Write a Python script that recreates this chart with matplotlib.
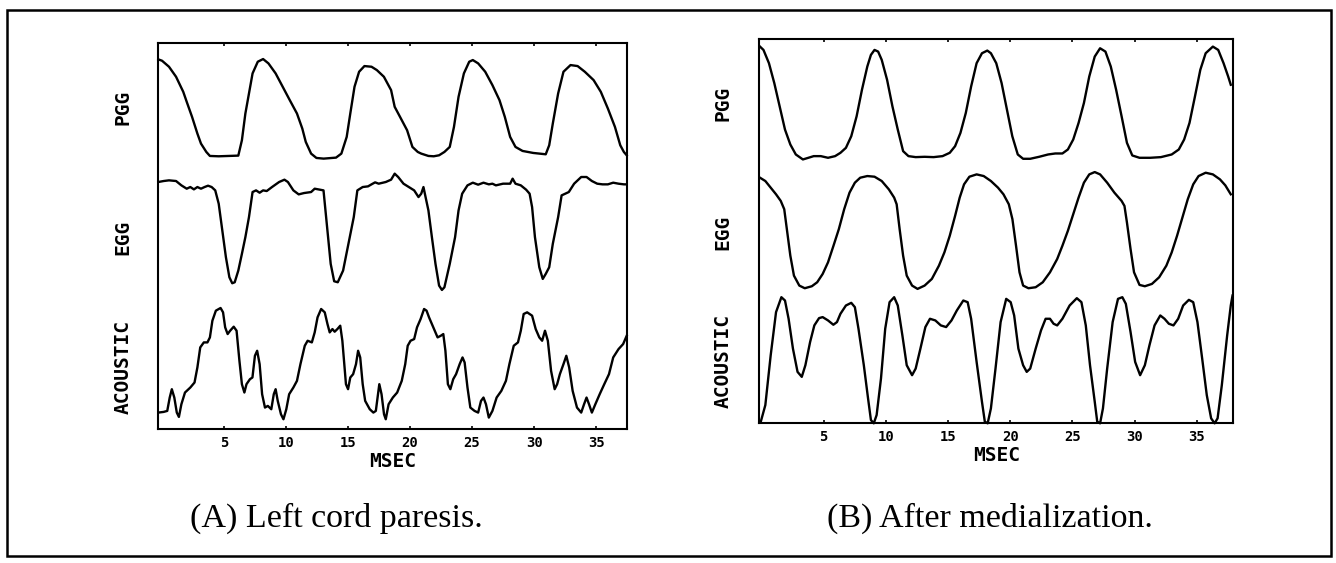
import matplotlib
matplotlib.use('Agg')
import matplotlib.pyplot as plt
from matplotlib.patches import Rectangle

# Traces: time in msec, amplitude in arbitrary units
# (0 = bottom of the plot frame, 115.7 = top of the plot frame)

##### (A) Left cord paresis #####
a_pgg_ms = [-0.30, 0.00, 0.56, 1.13, 1.71, 1.99, 2.42, 2.85, 3.14, 3.57,
            3.86, 4.57, 6.15, 6.44, 6.72, 7.01, 7.30, 7.72, 8.15, 8.58,
            9.16, 9.73, 10.30, 10.88, 11.31, 11.59, 12.02, 12.45, 13.03, 14.03,
            14.46, 14.89, 15.18, 15.52, 15.89, 16.32, 16.89, 17.32, 17.89, 18.47,
            18.76, 19.19, 19.76, 20.19, 20.62, 20.90, 21.48, 21.91, 22.34, 22.77,
            23.20, 23.54, 23.91, 24.34, 24.77, 25.06, 25.49, 26.06, 26.64, 27.21,
            27.64, 28.07, 28.50, 29.07, 29.93, 30.94, 31.22, 31.51, 31.94, 32.37,
            32.94, 33.51, 34.09, 34.80, 35.38, 35.95, 36.52, 36.95, 37.24, 37.47]
a_pgg = [110.7, 110.3, 108.5, 105.5, 101.0, 98.0, 93.5, 88.5, 85.5, 83.0,
         81.8, 81.7, 81.9, 86.5, 94.5, 100.5, 106.5, 110.0, 110.8, 109.5,
         106.5, 102.5, 98.5, 94.5, 90.0, 86.0, 82.5, 81.2, 81.0, 81.3,
         82.5, 87.5, 94.5, 102.5, 107.0, 108.7, 108.5, 107.5, 105.5, 101.5,
         96.5, 93.5, 89.5, 84.5, 83.0, 82.5, 81.8, 81.7, 82.0, 83.0,
         84.5, 90.5, 99.5, 106.5, 110.0, 110.5, 109.5, 107.0, 103.0, 98.5,
         93.5, 87.5, 84.5, 83.3, 82.7, 82.3, 85.0, 91.5, 100.5, 107.0,
         109.0, 108.7, 107.0, 104.5, 101.0, 96.0, 90.5, 85.0, 83.0, 82.0]

a_egg_ms = [-0.30, 0.13, 0.56, 1.13, 1.56, 1.99, 2.28, 2.57, 2.85, 3.14,
            3.43, 3.71, 4.00, 4.29, 4.57, 4.86, 5.15, 5.43, 5.66, 5.86,
            6.15, 6.44, 6.72, 7.01, 7.30, 7.58, 7.87, 8.15, 8.44, 8.87,
            9.44, 9.87, 10.15, 10.59, 11.02, 11.45, 12.02, 12.31, 12.74, 13.02,
            13.31, 13.60, 13.88, 14.17, 14.60, 15.03, 15.46, 15.75, 16.18, 16.61,
            16.89, 17.18, 17.47, 18.04, 18.47, 18.76, 19.04, 19.47, 19.90, 20.33,
            20.68, 20.90, 21.08, 21.25, 21.48, 21.76, 22.05, 22.34, 22.57, 22.77,
            23.20, 23.63, 23.91, 24.20, 24.63, 25.06, 25.49, 25.92, 26.35, 26.64,
            26.92, 27.50, 28.07, 28.27, 28.50, 28.93, 29.36, 29.64, 29.84, 30.07,
            30.42, 30.70, 30.94, 31.22, 31.51, 31.94, 32.22, 32.51, 32.80, 33.23,
            33.80, 34.23, 34.66, 35.09, 35.52, 35.95, 36.38, 36.81, 37.24, 37.47]
a_egg = [74.0, 74.3, 74.5, 74.3, 73.0, 72.0, 72.5, 71.8, 72.5, 72.0,
         72.5, 72.9, 72.5, 71.5, 67.5, 59.5, 51.5, 45.5, 43.7, 44.0,
         47.5, 52.5, 57.5, 63.5, 71.0, 71.5, 70.8, 71.5, 71.3, 72.5,
         74.0, 74.7, 74.0, 71.5, 70.3, 70.7, 71.0, 72.0, 71.7, 71.5,
         60.5, 49.5, 44.3, 44.0, 47.5, 55.5, 63.5, 71.5, 72.5, 72.7,
         73.3, 73.9, 73.5, 74.0, 74.7, 76.5, 75.5, 73.5, 72.5, 71.5,
         69.5, 70.5, 72.5, 69.5, 65.5, 57.5, 49.5, 43.0, 41.7, 42.5,
         49.5, 57.5, 65.5, 70.5, 73.0, 73.8, 73.2, 73.8, 73.3, 73.5,
         73.0, 73.5, 73.5, 75.0, 73.5, 73.0, 71.7, 70.5, 66.5, 57.5,
         48.5, 45.0, 46.5, 48.5, 55.5, 63.5, 70.0, 70.5, 71.0, 73.5,
         75.5, 75.5, 74.3, 73.5, 73.3, 73.3, 73.8, 73.5, 73.3, 73.3]

a_ac_ms = [-0.30, 0.13, 0.42, 0.62, 0.79, 0.99, 1.19, 1.36, 1.56, 1.85,
           2.28, 2.62, 2.85, 3.08, 3.37, 3.66, 3.86, 4.06, 4.34, 4.72,
           4.92, 5.09, 5.29, 5.49, 5.78, 6.01, 6.24, 6.44, 6.64, 6.81,
           7.09, 7.29, 7.49, 7.67, 7.87, 8.07, 8.30, 8.53, 8.81, 9.01,
           9.16, 9.33, 9.59, 9.79, 10.02, 10.25, 10.59, 10.88, 11.16, 11.51,
           11.74, 12.08, 12.31, 12.54, 12.83, 13.12, 13.34, 13.52, 13.74, 13.92,
           14.14, 14.37, 14.54, 14.83, 15.00, 15.18, 15.41, 15.64, 15.81, 15.98,
           16.18, 16.38, 16.75, 17.04, 17.24, 17.41, 17.52, 17.70, 17.90, 18.04,
           18.27, 18.61, 18.96, 19.33, 19.61, 19.81, 20.04, 20.33, 20.56, 20.85,
           21.13, 21.33, 21.53, 21.76, 21.99, 22.22, 22.48, 22.68, 22.85, 23.05,
           23.25, 23.48, 23.71, 24.00, 24.23, 24.40, 24.63, 24.86, 25.20, 25.49,
           25.72, 25.92, 26.12, 26.35, 26.64, 26.98, 27.36, 27.73, 28.01, 28.36,
           28.70, 28.93, 29.16, 29.44, 29.84, 30.13, 30.42, 30.65, 30.88, 31.11,
           31.37, 31.66, 31.86, 32.08, 32.37, 32.60, 32.83, 33.11, 33.46, 33.80,
           34.03, 34.23, 34.43, 34.66, 34.94, 35.29, 35.66, 36.04, 36.38, 36.81,
           37.18, 37.47]
a_ac = [5.0, 5.2, 5.5, 9.5, 12.0, 9.5, 5.0, 3.7, 7.5, 11.0,
        12.5, 14.0, 18.5, 24.5, 26.0, 26.0, 27.5, 32.5, 35.5, 36.3,
        35.0, 30.5, 28.5, 29.5, 30.7, 29.5, 20.5, 13.5, 11.0, 13.5,
        15.0, 15.5, 22.0, 23.5, 19.5, 10.5, 6.5, 7.0, 6.0, 10.5,
        12.0, 8.5, 4.5, 3.0, 6.0, 10.5, 12.5, 14.5, 19.5, 25.0,
        26.5, 26.0, 29.0, 33.5, 36.0, 35.0, 31.5, 29.0, 30.0, 29.2,
        30.0, 31.0, 26.5, 13.5, 12.0, 15.5, 16.5, 19.5, 23.5, 21.5,
        13.5, 8.5, 6.0, 5.0, 5.5, 10.5, 13.5, 10.5, 4.5, 3.0,
        7.5, 9.5, 11.0, 14.5, 19.5, 25.0, 26.5, 27.0, 30.5, 33.0,
        36.0, 35.5, 33.5, 31.5, 29.5, 27.5, 28.0, 28.5, 23.5, 13.5,
        12.0, 15.0, 16.5, 19.5, 21.5, 20.0, 12.5, 6.5, 5.5, 5.0,
        8.5, 9.5, 7.5, 3.5, 5.5, 9.5, 11.5, 14.5, 19.5, 25.0,
        26.0, 29.5, 34.5, 35.0, 34.0, 30.0, 27.5, 26.5, 29.5, 26.5,
        17.5, 12.0, 13.5, 16.5, 19.5, 22.0, 18.5, 11.5, 6.5, 5.0,
        7.5, 9.5, 7.5, 5.0, 7.5, 10.5, 13.5, 16.5, 21.5, 24.0,
        25.5, 28.0]

##### (B) After medialization #####
b_pgg_ms = [-0.12, 0.16, 0.60, 1.03, 1.46, 1.89, 2.32, 2.76, 3.33, 3.77,
            4.20, 4.77, 5.35, 5.92, 6.35, 6.79, 7.22, 7.65, 8.08, 8.51,
            8.80, 9.09, 9.38, 9.67, 10.10, 10.53, 10.96, 11.39, 11.82, 12.40,
            13.12, 13.84, 14.56, 15.14, 15.57, 16.00, 16.43, 16.86, 17.30, 17.73,
            18.16, 18.45, 18.88, 19.31, 19.74, 20.17, 20.61, 21.04, 21.61, 22.33,
            23.05, 23.63, 24.20, 24.64, 25.07, 25.50, 25.93, 26.36, 26.80, 27.23,
            27.66, 28.09, 28.52, 28.96, 29.39, 29.82, 30.40, 31.26, 32.12, 32.99,
            33.56, 33.99, 34.42, 34.86, 35.29, 35.72, 36.30, 36.73, 37.16, 37.53,
            37.74]
b_pgg = [113.5, 112.5, 108.5, 102.5, 95.5, 88.5, 84.0, 81.0, 79.5, 80.0,
         80.5, 80.5, 80.0, 80.5, 81.5, 83.0, 86.5, 92.5, 100.5, 107.5,
         111.0, 112.5, 112.0, 109.5, 103.5, 95.5, 88.5, 82.0, 80.5, 80.2,
         80.3, 80.2, 80.5, 81.5, 83.5, 87.5, 93.5, 101.5, 108.5, 111.5,
         112.3, 111.5, 108.5, 102.5, 94.5, 86.5, 81.0, 79.7, 79.7, 80.3,
         81.0, 81.3, 81.3, 82.5, 85.5, 90.5, 96.5, 104.5, 110.5, 113.0,
         112.0, 107.5, 100.5, 92.5, 84.5, 80.7, 80.0, 80.0, 80.2, 81.0,
         82.5, 85.5, 90.5, 98.5, 106.5, 111.5, 113.5, 112.5, 108.5, 104.5,
         102.0]

b_egg_ms = [-0.12, 0.31, 0.74, 1.17, 1.55, 1.83, 2.04, 2.32, 2.61, 3.04,
            3.48, 4.05, 4.48, 4.92, 5.35, 5.79, 6.22, 6.65, 7.08, 7.51,
            7.94, 8.51, 9.09, 9.67, 10.24, 10.67, 10.87, 11.11, 11.39, 11.68,
            12.11, 12.55, 13.12, 13.70, 14.27, 14.71, 15.14, 15.57, 15.94, 16.29,
            16.72, 17.30, 17.87, 18.45, 19.02, 19.46, 19.89, 20.18, 20.47, 20.75,
            21.04, 21.47, 22.05, 22.62, 23.20, 23.78, 24.20, 24.64, 25.07, 25.50,
            25.93, 26.36, 26.80, 27.23, 27.80, 28.38, 28.96, 29.19, 29.39, 29.68,
            29.96, 30.40, 30.83, 31.40, 31.98, 32.56, 32.99, 33.42, 33.85, 34.28,
            34.72, 35.15, 35.72, 36.30, 36.87, 37.30, 37.74]
b_egg = [74.0, 73.0, 71.0, 69.0, 67.0, 64.5, 58.5, 50.5, 44.5, 41.5,
         40.7, 41.3, 42.5, 45.0, 48.5, 53.5, 58.5, 64.5, 69.5, 72.5,
         74.0, 74.5, 74.3, 73.0, 70.5, 68.0, 66.0, 58.5, 50.5, 44.5,
         41.5, 40.5, 41.5, 43.5, 47.5, 51.5, 56.5, 62.5, 68.0, 72.0,
         74.3, 75.0, 74.5, 73.0, 71.0, 69.0, 66.0, 61.5, 53.5, 45.5,
         41.5, 40.7, 41.0, 42.5, 45.5, 49.5, 53.5, 58.0, 63.0, 68.0,
         72.5, 75.0, 75.7, 75.0, 72.5, 69.5, 67.0, 65.5, 60.5, 52.5,
         45.5, 41.7, 41.3, 42.0, 44.0, 47.5, 51.5, 56.5, 62.0, 67.5,
         72.0, 74.5, 75.5, 75.0, 73.5, 71.7, 69.0]

b_ac_ms = [-0.07, 0.31, 0.74, 1.17, 1.60, 1.89, 2.18, 2.53, 2.90, 3.24,
           3.53, 3.91, 4.25, 4.63, 4.92, 5.35, 5.78, 6.07, 6.35, 6.79,
           7.22, 7.51, 7.80, 8.23, 8.57, 8.80, 9.03, 9.26, 9.61, 9.95,
           10.30, 10.67, 10.96, 11.33, 11.68, 12.11, 12.40, 12.78, 13.18, 13.55,
           13.98, 14.42, 14.85, 15.28, 15.71, 16.23, 16.58, 16.86, 17.30, 17.73,
           17.96, 18.19, 18.45, 18.82, 19.23, 19.68, 20.04, 20.32, 20.66, 21.04,
           21.33, 21.61, 22.05, 22.48, 22.85, 23.20, 23.49, 23.78, 24.20, 24.78,
           25.36, 25.73, 26.08, 26.42, 26.80, 27.00, 27.23, 27.46, 27.80, 28.24,
           28.67, 29.02, 29.30, 29.68, 30.05, 30.45, 30.83, 31.20, 31.61, 32.07,
           32.41, 32.76, 33.13, 33.51, 33.91, 34.37, 34.72, 35.06, 35.44, 35.81,
           36.16, 36.44, 36.68, 37.02, 37.45, 37.74, 37.88]
b_ac = [0.3, 5.5, 20.5, 33.5, 38.0, 37.0, 31.5, 22.5, 15.5, 14.0,
        17.5, 24.5, 29.5, 31.7, 32.0, 31.0, 29.7, 30.5, 33.0, 35.5,
        36.3, 35.0, 28.5, 17.5, 7.5, 1.0, 0.0, 2.5, 13.5, 28.5,
        36.5, 38.0, 35.5, 26.5, 17.5, 14.5, 16.5, 22.5, 29.0, 31.5,
        31.0, 29.5, 29.0, 31.0, 34.0, 37.0, 36.5, 31.5, 18.5, 6.5,
        0.5, 0.0, 4.5, 16.5, 30.5, 37.5, 36.5, 32.5, 22.5, 17.5,
        15.5, 16.5, 22.5, 28.0, 31.5, 31.5, 30.0, 29.5, 31.5, 35.5,
        37.7, 36.5, 29.5, 17.5, 6.5, 0.5, 0.0, 4.5, 16.5, 30.5,
        37.5, 38.0, 36.0, 27.5, 18.5, 14.5, 17.5, 23.5, 29.5, 32.5,
        31.5, 30.0, 29.5, 31.5, 35.5, 37.2, 36.5, 30.5, 19.5, 8.5,
        1.5, 0.0, 1.5, 11.5, 26.5, 35.5, 38.5]

channels = ['PGG', 'EGG', 'ACOUSTIC']
x_ticks = [5, 10, 15, 20, 25, 30, 35]
captions = ['(A) Left cord paresis.', '(B) After medialization.']

MONO = 'DejaVu Sans Mono'
SERIF = 'Liberation Serif'

fig = plt.figure(figsize=(13.36, 5.63), dpi=100)

# frame around the whole figure
fig.patches.append(Rectangle((0.0055, 0.0125), 0.9905, 0.9695, transform=fig.transFigure,
                             fill=False, edgecolor='black', linewidth=1.8))

panels = [
    ([0.1185, 0.2375, 0.3506, 0.6867], (-0.30, 37.47),
     [(a_pgg_ms, a_pgg), (a_egg_ms, a_egg), (a_ac_ms, a_ac)], 0.2515),
    ([0.5683, 0.2481, 0.3548, 0.6821], (-0.18, 37.94),
     [(b_pgg_ms, b_pgg), (b_egg_ms, b_egg), (b_ac_ms, b_ac)], 0.741),
]

label_y = [0.833, 0.497, 0.162]

for i, (rect, xlim, traces, cap_x) in enumerate(panels):
    ax = fig.add_axes(rect)
    for t, v in traces:
        ax.plot(t, v, color='black', linewidth=1.7, clip_on=False)
    ax.set_xlim(xlim)
    ax.set_ylim(0, 115.7)
    ax.set_yticks([])
    ax.set_xticks(x_ticks)
    ax.set_xticklabels([str(k) for k in x_ticks], fontfamily=MONO,
                       fontweight='bold', fontsize=10)
    # tiny inward ticks, bottom and top
    ax.tick_params(axis='x', direction='in', length=2.5, width=1.2, pad=5, top=True)
    for s in ax.spines.values():
        s.set_linewidth(1.5)
    ax.set_xlabel('MSEC', fontfamily=MONO, fontweight='bold', fontsize=14, labelpad=1)

    # channel names down the left side
    for name, yy in zip(channels, label_y):
        ax.text(-0.076, yy, name, transform=ax.transAxes, rotation=90,
                ha='center', va='center', fontfamily=MONO, fontweight='bold',
                fontsize=14)

    fig.text(cap_x, 0.0648, captions[i], ha='center', va='baseline',
             fontfamily=SERIF, fontsize=24.5)

fig.savefig('out.png', dpi=100)
